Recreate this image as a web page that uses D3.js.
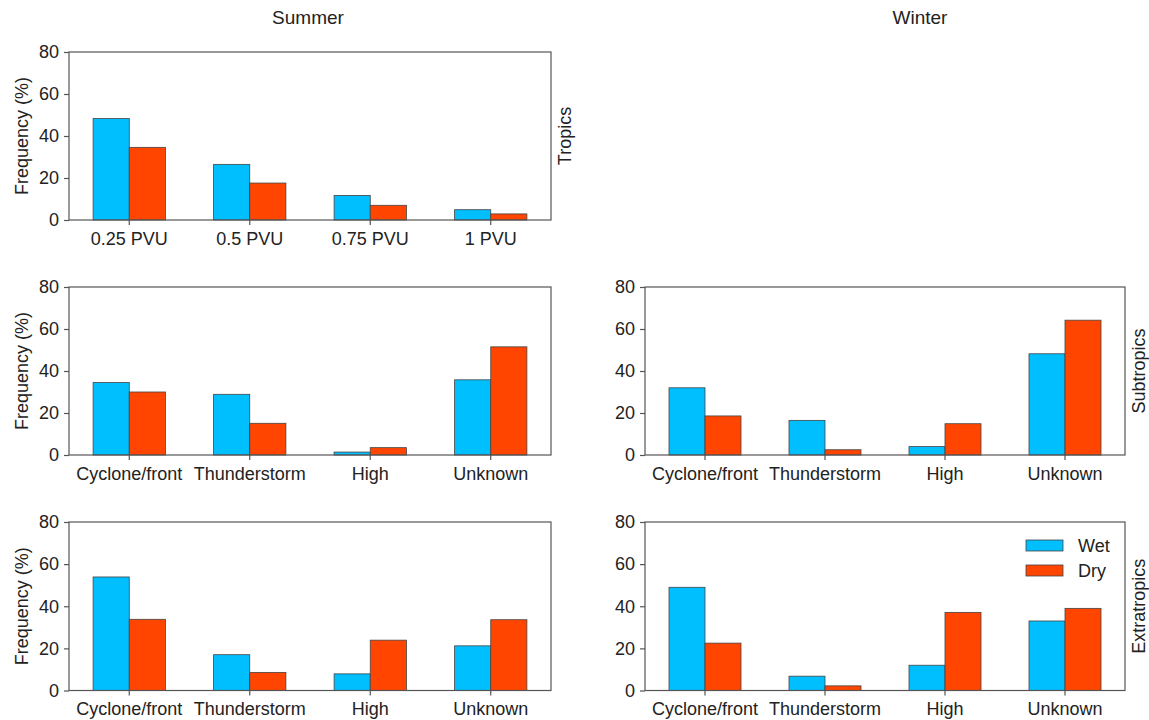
<!DOCTYPE html>
<html lang="en">
<head>
    <meta charset="UTF-8">
    <title>Wet / Dry frequency by region and season</title>
    <script src="https://d3js.org/d3.v7.min.js"></script>
    <style>
        body { margin: 0; background: #fff; }
        svg { font-family: "Liberation Sans", Arial, sans-serif; }
        .frame { fill: none; stroke: #555; stroke-width: 1.2px; }
        .axis path, .axis line { stroke: #555; stroke-width: 1.2px; }
        .axis text { fill: #222; font-size: 18px; }
        .bar { stroke: #444; stroke-width: 0.8px; }
        .label { fill: #222; font-size: 18px; }
        .title { fill: #222; font-size: 19px; }
    </style>
</head>
<body>
<svg width="1149" height="720"></svg>
<script>
    // categories
    const pvuLevels = ["0.25 PVU", "0.5 PVU", "0.75 PVU", "1 PVU"];
    const weatherTypes = ["Cyclone/front", "Thunderstorm", "High", "Unknown"];
    const yTicks = [0, 20, 40, 60, 80];

    // series values (%)
    const tropicsSummerWet = [48.3, 26.5, 11.7, 4.9];
    const tropicsSummerDry = [34.6, 17.6, 7.0, 2.9];
    const subtropicsSummerWet = [34.5, 28.9, 1.4, 35.8];
    const subtropicsSummerDry = [30.0, 15.1, 3.5, 51.5];
    const extratropicsSummerWet = [53.9, 17.0, 7.9, 21.2];
    const extratropicsSummerDry = [33.8, 8.6, 23.9, 33.6];
    const subtropicsWinterWet = [32.0, 16.5, 4.0, 48.2];
    const subtropicsWinterDry = [18.6, 2.5, 14.9, 64.2];
    const extratropicsWinterWet = [49.0, 6.8, 12.0, 33.0];
    const extratropicsWinterDry = [22.5, 2.2, 37.1, 39.0];

    const seriesNames = ["Wet", "Dry"];
    const colors = {Wet: "#00bfff", Dry: "#ff4500"};

    const svg = d3.select("svg");

    // layout of the five panels
    const cols = [{x0: 69, x1: 551}, {x0: 645, x1: 1125}];
    const rows = [{y0: 52, y1: 220}, {y0: 287, y1: 455}, {y0: 522, y1: 690.5}];

    const panels = [
        {col: 0, row: 0, cats: pvuLevels, wet: tropicsSummerWet, dry: tropicsSummerDry, yLabel: true, side: "Tropics"},
        {col: 0, row: 1, cats: weatherTypes, wet: subtropicsSummerWet, dry: subtropicsSummerDry, yLabel: true},
        {col: 0, row: 2, cats: weatherTypes, wet: extratropicsSummerWet, dry: extratropicsSummerDry, yLabel: true},
        {col: 1, row: 1, cats: weatherTypes, wet: subtropicsWinterWet, dry: subtropicsWinterDry, side: "Subtropics"},
        {col: 1, row: 2, cats: weatherTypes, wet: extratropicsWinterWet, dry: extratropicsWinterDry, side: "Extratropics", legend: true}
    ];

    panels.forEach(p => {
        const c = cols[p.col], r = rows[p.row];
        const x = d3.scaleBand().domain(p.cats).range([c.x0, c.x1]).padding(0);
        const y = d3.scaleLinear().domain([0, 80]).range([r.y1, r.y0]);
        const bw = x.bandwidth() * 0.3;

        const g = svg.append("g");

        const rowsData = p.cats.map((cat, i) => ({cat, Wet: p.wet[i], Dry: p.dry[i]}));
        seriesNames.forEach((s, si) => {
            g.selectAll(null)
                .data(rowsData)
                .enter().append("rect")
                .attr("class", "bar")
                .attr("x", d => x(d.cat) + x.bandwidth() / 2 - bw + si * bw)
                .attr("y", d => y(d[s]))
                .attr("width", bw)
                .attr("height", d => y(0) - y(d[s]))
                .attr("fill", colors[s]);
        });

        g.append("rect")
            .attr("class", "frame")
            .attr("x", c.x0).attr("y", r.y0)
            .attr("width", c.x1 - c.x0).attr("height", r.y1 - r.y0);

        g.append("g")
            .attr("class", "axis")
            .attr("transform", `translate(0,${r.y1})`)
            .call(d3.axisBottom(x).tickSize(5).tickPadding(7).tickSizeOuter(0))
            .call(a => a.select(".domain").remove());

        g.append("g")
            .attr("class", "axis")
            .attr("transform", `translate(${c.x0},0)`)
            .call(d3.axisLeft(y).tickValues(yTicks).tickSize(5).tickPadding(5).tickSizeOuter(0))
            .call(a => a.select(".domain").remove());

        const midY = (r.y0 + r.y1) / 2;
        if (p.yLabel) {
            g.append("text")
                .attr("class", "label")
                .attr("transform", `translate(${c.x0 - 41},${midY}) rotate(-90)`)
                .attr("text-anchor", "middle")
                .text("Frequency (%)");
        }
        if (p.side) {
            g.append("text")
                .attr("class", "label")
                .attr("transform", `translate(${c.x1 + 20},${midY}) rotate(-90)`)
                .attr("text-anchor", "middle")
                .text(p.side);
        }
        if (p.legend) {
            const lg = g.append("g").attr("transform", `translate(${c.x1 - 99},${r.y0 + 18})`);
            seriesNames.forEach((s, i) => {
                lg.append("rect")
                    .attr("class", "bar")
                    .attr("x", 0).attr("y", i * 25)
                    .attr("width", 37).attr("height", 11)
                    .attr("fill", colors[s]);
                lg.append("text")
                    .attr("class", "label")
                    .attr("x", 52).attr("y", i * 25 + 5.5)
                    .attr("dy", "0.35em")
                    .text(s);
            });
        }
    });

    // season titles
    svg.append("text").attr("class", "title")
        .attr("x", 308).attr("y", 24).attr("text-anchor", "middle").text("Summer");
    svg.append("text").attr("class", "title")
        .attr("x", 920).attr("y", 24).attr("text-anchor", "middle").text("Winter");
</script>
</body>
</html>
